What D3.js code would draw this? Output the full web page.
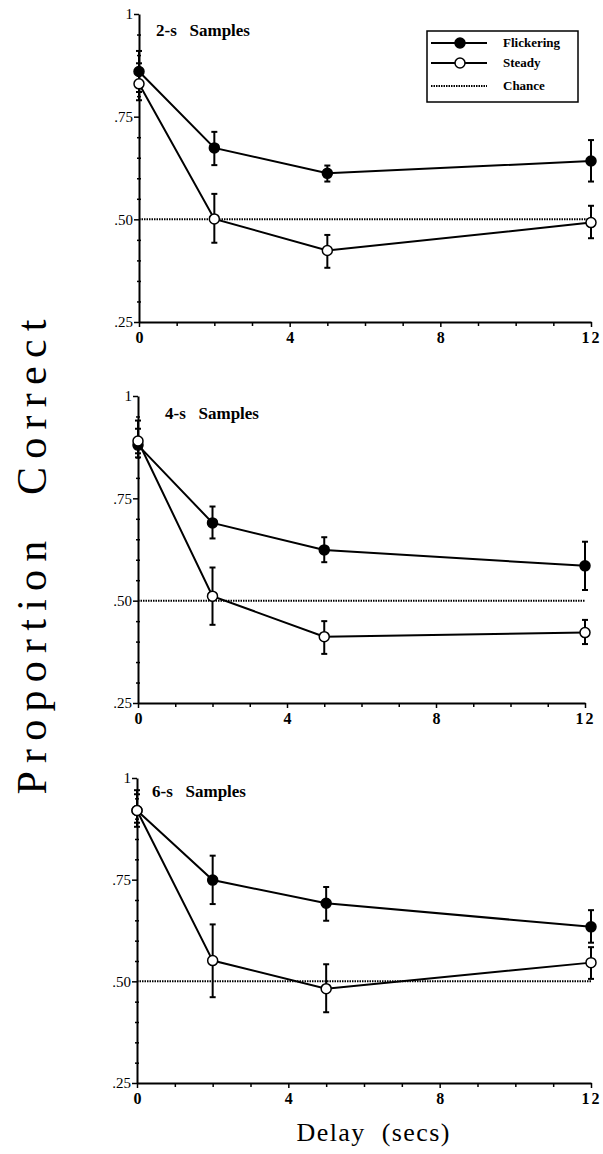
<!DOCTYPE html>
<html>
<head>
<meta charset="utf-8">
<script src="https://cdn.jsdelivr.net/npm/d3@7"></script>
<style>
  body { margin: 0; background: #fff; }
  svg { display: block; }
</style>
</head>
<body>
<script>
// Delay values (secs) on the x axis
var delays = [0, 2, 5, 12];

// Panel names
var panelTitles = ["2-s   Samples", "4-s   Samples", "6-s   Samples"];

// Proportion correct, one array per panel
var flickering = [
    [0.86, 0.674, 0.612, 0.642],
    [0.88, 0.690, 0.624, 0.585],
    [0.92, 0.749, 0.692, 0.634]
];
var flickeringLow = [
    [0.81, 0.632, 0.592, 0.592],
    [0.85, 0.652, 0.594, 0.526],
    [0.88, 0.690, 0.649, 0.595]
];
var flickeringHigh = [
    [0.91, 0.713, 0.631, 0.693],
    [0.92, 0.730, 0.655, 0.644],
    [0.96, 0.809, 0.732, 0.675]
];

var steady = [
    [0.83, 0.501, 0.424, 0.492],
    [0.89, 0.511, 0.412, 0.422],
    [0.92, 0.551, 0.482, 0.546]
];
var steadyLow = [
    [0.79, 0.443, 0.382, 0.454],
    [0.86, 0.441, 0.370, 0.394],
    [0.89, 0.461, 0.424, 0.506]
];
var steadyHigh = [
    [0.88, 0.562, 0.462, 0.533],
    [0.94, 0.581, 0.450, 0.453],
    [0.97, 0.640, 0.542, 0.584]
];

var chance = 0.50;

// Tick values
var xMajor = [0, 4, 8, 12];
var xMinor = [1, 2, 3, 5, 6, 7, 9, 10, 11];
var yMajor = [0.25, 0.50, 0.75, 1];
var yMinor = [0.30, 0.35, 0.40, 0.45, 0.55, 0.60, 0.65, 0.70, 0.80, 0.85, 0.90, 0.95];

var legendLabels = ["Flickering", "Steady", "Chance"];

// Page layout for each panel (pixels)
var panels = [
    {top: 14,  bottom: 322,  left: 139, right: 591, titleX: 17, titleY: 22},
    {top: 396, bottom: 703,  left: 138, right: 585, titleX: 27, titleY: 23},
    {top: 778, bottom: 1083, left: 137, right: 591, titleX: 15, titleY: 19}
];

var serif = "'Liberation Serif', 'Times New Roman', serif";

var svg = d3.select("body").append("svg")
    .attr("width", 603)
    .attr("height", 1154);

panels.forEach(function(p, i) {
    var x = d3.scaleLinear().domain([0, 12]).range([p.left, p.right]);
    var y = d3.scaleLinear().domain([0.25, 1]).range([p.bottom, p.top]);

    var g = svg.append("g");

    // minor ticks
    g.append("g")
        .attr("transform", "translate(0," + p.bottom + ")")
        .call(d3.axisBottom(x).tickValues(xMinor).tickSize(4).tickFormat(""))
        .call(function(a) { a.select(".domain").remove(); })
        .selectAll("line").attr("stroke-width", 1.5);

    g.append("g")
        .attr("transform", "translate(" + (p.left + 2) + ",0)")
        .call(d3.axisLeft(y).tickValues(yMinor).tickSize(4).tickFormat(""))
        .call(function(a) { a.select(".domain").remove(); })
        .selectAll("line").attr("stroke-width", 1.5);

    // x axis
    var xAxis = g.append("g")
        .attr("transform", "translate(0," + p.bottom + ")")
        .call(d3.axisBottom(x).tickValues(xMajor).tickSize(5).tickSizeOuter(0).tickPadding(5));
    xAxis.select(".domain").attr("stroke-width", 2);
    xAxis.selectAll("line").attr("stroke-width", 1.5);
    xAxis.selectAll("text")
        .attr("fill", "#000")
        .style("font-family", serif)
        .style("font-size", "16px")
        .style("font-weight", "bold")
        .style("letter-spacing", function(d) { return d == 12 ? "2px" : "0px"; });

    // y axis
    var yAxis = g.append("g")
        .attr("transform", "translate(" + p.left + ",0)")
        .call(d3.axisLeft(y).tickValues(yMajor).tickSize(5).tickSizeOuter(0).tickPadding(1)
            .tickFormat(function(d) { return d == 1 ? "1" : d3.format(".2f")(d).replace("0.", "."); }));
    yAxis.select(".domain").attr("stroke-width", 2);
    yAxis.selectAll("line").attr("stroke-width", 1.5);
    yAxis.selectAll("text")
        .attr("fill", "#000")
        .style("font-family", serif)
        .style("font-size", "15px");

    // chance line
    g.append("line")
        .attr("x1", x(0)).attr("x2", x(12))
        .attr("y1", y(chance)).attr("y2", y(chance))
        .attr("stroke", "#000")
        .attr("stroke-width", 2)
        .attr("stroke-dasharray", "1.5,1");

    var line = d3.line()
        .x(function(d) { return x(d.delay); })
        .y(function(d) { return y(d.value); });

    // flickering first so the open circles sit on top
    var series = [
        {values: flickering[i], low: flickeringLow[i], high: flickeringHigh[i], fill: "#000"},
        {values: steady[i], low: steadyLow[i], high: steadyHigh[i], fill: "#fff"}
    ];

    series.forEach(function(s) {
        var pts = delays.map(function(d, j) {
            return {delay: d, value: s.values[j], low: s.low[j], high: s.high[j]};
        });

        g.append("path")
            .datum(pts)
            .attr("fill", "none")
            .attr("stroke", "#000")
            .attr("stroke-width", 2)
            .attr("d", line);

        // error bars
        var eb = g.selectAll(null).data(pts).enter().append("g");
        eb.append("line")
            .attr("x1", function(d) { return x(d.delay); })
            .attr("x2", function(d) { return x(d.delay); })
            .attr("y1", function(d) { return y(d.low); })
            .attr("y2", function(d) { return y(d.high); })
            .attr("stroke", "#000").attr("stroke-width", 2);
        eb.append("line")
            .attr("x1", function(d) { return x(d.delay) - 3; })
            .attr("x2", function(d) { return x(d.delay) + 3; })
            .attr("y1", function(d) { return y(d.low); })
            .attr("y2", function(d) { return y(d.low); })
            .attr("stroke", "#000").attr("stroke-width", 2);
        eb.append("line")
            .attr("x1", function(d) { return x(d.delay) - 3; })
            .attr("x2", function(d) { return x(d.delay) + 3; })
            .attr("y1", function(d) { return y(d.high); })
            .attr("y2", function(d) { return y(d.high); })
            .attr("stroke", "#000").attr("stroke-width", 2);

        g.selectAll(null).data(pts).enter().append("circle")
            .attr("cx", function(d) { return x(d.delay); })
            .attr("cy", function(d) { return y(d.value); })
            .attr("r", 5)
            .attr("fill", s.fill)
            .attr("stroke", "#000")
            .attr("stroke-width", 1.5);
    });

    // panel title
    g.append("text")
        .attr("x", p.left + p.titleX)
        .attr("y", p.top + p.titleY)
        .style("white-space", "pre")
        .style("font-family", serif)
        .style("font-size", "17px")
        .style("font-weight", "bold")
        .text(panelTitles[i]);
});

// Legend (top panel only)
var legend = svg.append("g").attr("transform", "translate(427,31)");
legend.append("rect")
    .attr("width", 151).attr("height", 71)
    .attr("fill", "#fff")
    .attr("stroke", "#000")
    .attr("stroke-width", 1.5);

var rowY = [12, 32, 55];
legendLabels.forEach(function(lab, k) {
    legend.append("line")
        .attr("x1", 4).attr("x2", 60)
        .attr("y1", rowY[k]).attr("y2", rowY[k])
        .attr("stroke", "#000")
        .attr("stroke-width", 2)
        .attr("stroke-dasharray", k == 2 ? "1.5,1" : null);
    if (k < 2) {
        legend.append("circle")
            .attr("cx", 33).attr("cy", rowY[k]).attr("r", 5)
            .attr("fill", k == 0 ? "#000" : "#fff")
            .attr("stroke", "#000").attr("stroke-width", 1.5);
    }
    legend.append("text")
        .attr("x", 76).attr("y", rowY[k] + 4)
        .style("font-family", serif)
        .style("font-size", "13px")
        .style("font-weight", "bold")
        .text(lab);
});

// Axis titles
svg.append("text")
    .attr("transform", "translate(46,557) rotate(-90)")
    .attr("text-anchor", "middle")
    .attr("textLength", 475)
    .attr("lengthAdjust", "spacing")
    .style("white-space", "pre")
    .style("font-family", serif)
    .style("font-size", "42px")
    .text("Proportion  Correct");

svg.append("text")
    .attr("x", 373)
    .attr("y", 1141)
    .attr("text-anchor", "middle")
    .attr("textLength", 153)
    .attr("lengthAdjust", "spacing")
    .style("white-space", "pre")
    .style("font-family", serif)
    .style("font-size", "26px")
    .text("Delay  (secs)");
</script>
</body>
</html>
